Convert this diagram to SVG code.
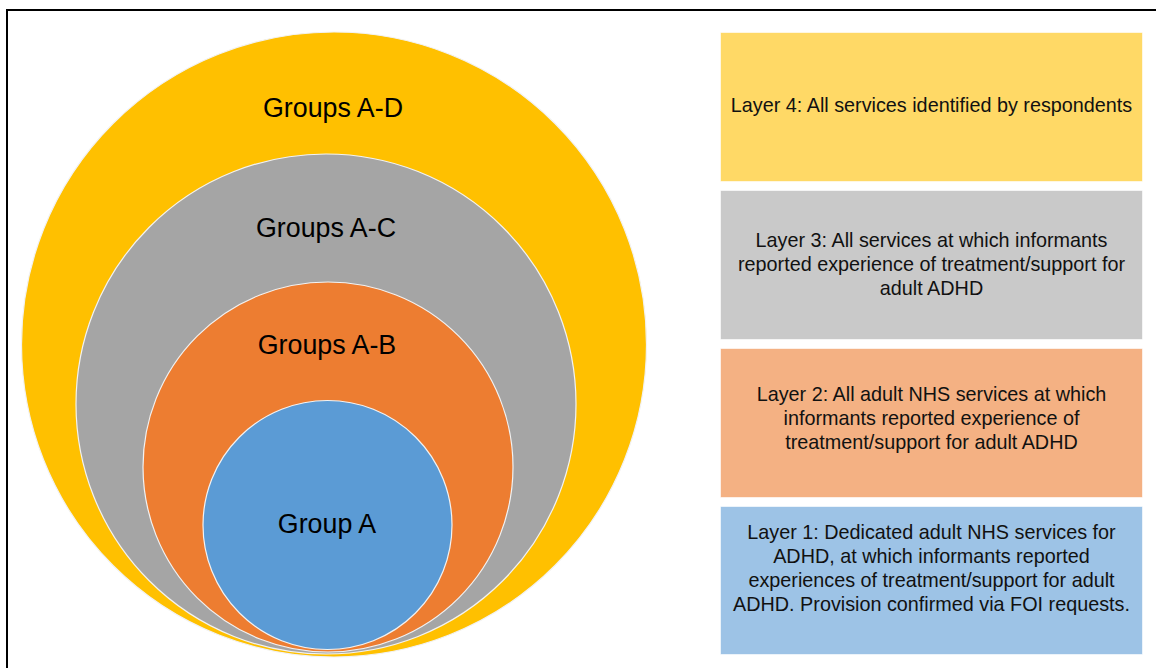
<svg xmlns="http://www.w3.org/2000/svg" width="1156" height="668" viewBox="0 0 1156 668">
  <style>
    .ring { stroke: #f2f2f2; stroke-width: 1.2; }
    .glabel { font-family: "Liberation Sans", Arial, sans-serif; font-size: 26.8px; fill: #000; text-anchor: middle; dominant-baseline: central; }
    .box { stroke: #ffffff; stroke-opacity: 0.6; stroke-width: 1; }
    .btext { font-family: "Liberation Sans", Arial, sans-serif; font-size: 19.8px; fill: #111; text-anchor: middle; dominant-baseline: central; }
  </style>
  <rect width="1156" height="668" fill="#ffffff"/>
  <!-- outer frame, open on the right and bottom -->
  <rect x="7" y="10" width="1170" height="680" fill="none" stroke="#000" stroke-width="2"/>

  <!-- nested circles -->
  <g id="groups-a-d">
    <circle class="ring" cx="334" cy="344.5" r="312.5" fill="#FFC000" stroke="none"/>
    <text class="glabel" x="333" y="108">Groups A-D</text>
  </g>
  <g id="groups-a-c">
    <circle class="ring" cx="326" cy="404" r="250" fill="#A5A5A5"/>
    <text class="glabel" x="326" y="228">Groups A-C</text>
  </g>
  <g id="groups-a-b">
    <circle class="ring" cx="328" cy="467" r="185" fill="#ED7D31"/>
    <text class="glabel" x="327" y="345">Groups A-B</text>
  </g>
  <g id="group-a">
    <circle class="ring" cx="327.5" cy="525" r="124.5" fill="#5B9BD5"/>
    <text class="glabel" x="327" y="524">Group A</text>
  </g>

  <!-- layer legend boxes -->
  <g id="layer-4">
    <rect class="box" x="720.5" y="32.5" width="422" height="149" fill="#FFD966"/>
    <text class="btext" x="931.5" y="105">Layer 4: All services identified by respondents</text>
  </g>
  <g id="layer-3">
    <rect class="box" x="720.5" y="190.5" width="422" height="149" fill="#C9C9C9"/>
    <text class="btext" x="931.5" y="240">Layer 3: All services at which informants</text>
    <text class="btext" x="931.5" y="264">reported experience of treatment/support for</text>
    <text class="btext" x="931.5" y="288">adult ADHD</text>
  </g>
  <g id="layer-2">
    <rect class="box" x="720.5" y="348.5" width="422" height="149" fill="#F4B183"/>
    <text class="btext" x="931.5" y="394">Layer 2: All adult NHS services at which</text>
    <text class="btext" x="931.5" y="418">informants reported experience of</text>
    <text class="btext" x="931.5" y="442">treatment/support for adult ADHD</text>
  </g>
  <g id="layer-1">
    <rect class="box" x="720.5" y="506.5" width="422" height="148" fill="#9DC3E6"/>
    <text class="btext" x="931.5" y="532">Layer 1: Dedicated adult NHS services for</text>
    <text class="btext" x="931.5" y="556">ADHD, at which informants reported</text>
    <text class="btext" x="931.5" y="580">experiences of treatment/support for adult</text>
    <text class="btext" x="931.5" y="604">ADHD. Provision confirmed via FOI requests.</text>
  </g>

  <!-- no connectors in this figure -->
  <g id="connectors"/>
</svg>
